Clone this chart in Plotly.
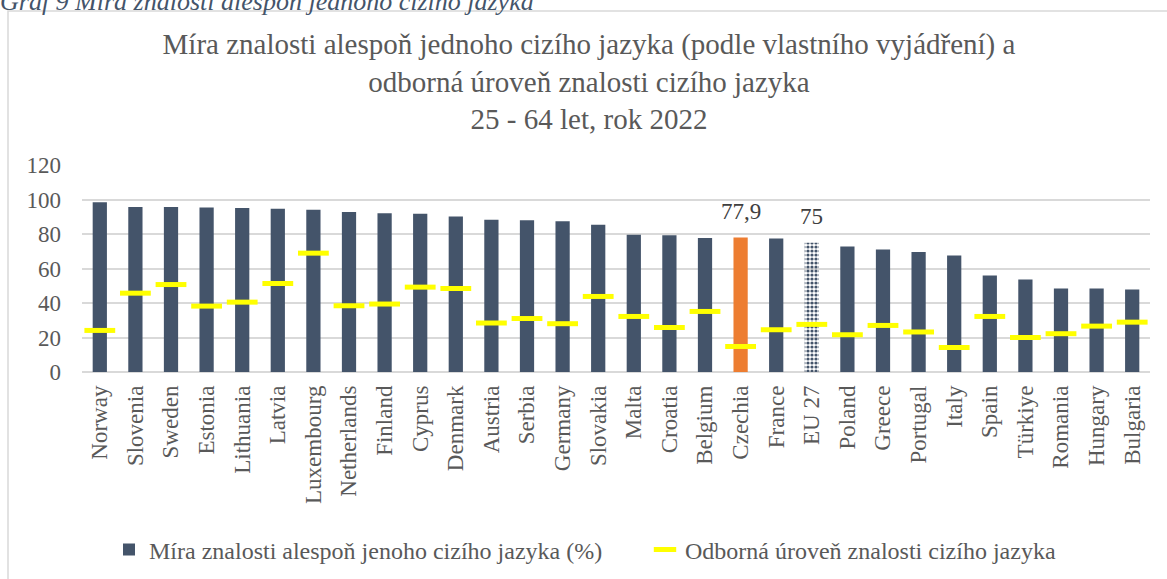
import plotly.graph_objects as go

countries = ["Norway", "Slovenia", "Sweden", "Estonia", "Lithuania", "Latvia", "Luxembourg",
             "Netherlands", "Finland", "Cyprus", "Denmark", "Austria", "Serbia", "Germany",
             "Slovakia", "Malta", "Croatia", "Belgium", "Czechia", "France", "EU 27", "Poland",
             "Greece", "Portugal", "Italy", "Spain", "Türkiye", "Romania", "Hungary", "Bulgaria"]

knowledge = [98.4, 95.7, 95.7, 95.3, 95.1, 94.7, 94.1, 92.8, 92.0, 91.8, 90.1, 88.2, 88.0, 87.4,
             85.3, 79.5, 79.3, 77.7, 77.9, 77.4, 75.0, 72.7, 71.0, 69.5, 67.5, 55.9, 53.6,
             48.4, 48.4, 47.8]

proficient = [24.1, 45.7, 50.7, 38.2, 40.5, 51.3, 68.9, 38.4, 39.4, 49.2, 48.4, 28.4, 31.0, 28.0,
              43.8, 32.2, 25.8, 35.1, 14.8, 24.5, 27.6, 21.6, 27.0, 23.2, 14.2, 32.2, 20.0,
              22.2, 26.6, 28.9]

labelled = {"Czechia": "77,9", "EU 27": "75"}

name_bar = "Míra znalosti alespoň jenoho cizího jazyka (%)"
name_line = "Odborná úroveň znalosti cizího jazyka"
title_text = ("Míra znalosti alespoň jednoho cizího jazyka (podle vlastního vyjádření) a<br>"
              "odborná úroveň znalosti cizího jazyka<br>25 - 64 let, rok 2022")
caption_text = "Graf 9 Míra znalosti alespoň jednoho cizího jazyka"

# styling
W, H = 1167, 579
L, R, T, B = 82, 17, 165, 207
DARK = "#44546A"
ORANGE = "#ED7D31"
YELLOW = "#FFFF00"
GRID = "#D9D9D9"
TXT = "#595959"
FONT = "Liberation Serif, Times New Roman, serif"

colors = [ORANGE if c == "Czechia" else DARK for c in countries]
patterns = ["." if c == "EU 27" else "" for c in countries]
fg = [DARK for c in countries]

fig = go.Figure()
fig.add_trace(go.Bar(
    x=countries, y=knowledge, name=name_bar, legend="legend",
    marker=dict(color=colors, line=dict(width=0),
                pattern=dict(shape=patterns, fgcolor=fg, bgcolor="white",
                             size=4, solidity=0.5, fillmode="replace")),
    width=0.4,
))
fig.add_trace(go.Scatter(
    x=countries, y=proficient, name=name_line, mode="markers", legend="legend2",
    marker=dict(symbol="line-ew", size=22, color=YELLOW, line=dict(width=5, color=YELLOW)),
))

for c, txt in labelled.items():
    i = countries.index(c)
    fig.add_annotation(x=c, y=knowledge[i], text=txt, showarrow=False,
                       yanchor="bottom", yshift=12,
                       font=dict(family=FONT, size=23, color="#404040"))

pw = W - L - R
ph = H - T - B
def px_x(p):
    return (p - L) / pw
def px_y(p):
    return (H - B - p) / ph

# chart border
fig.add_shape(type="rect", xref="paper", yref="paper",
              x0=px_x(8), x1=px_x(W + 20), y0=px_y(11), y1=px_y(H + 20),
              line=dict(color=GRID, width=1.5), fillcolor="rgba(0,0,0,0)", layer="below")

# cut-off caption above chart
fig.add_annotation(xref="paper", yref="paper", x=px_x(-2), y=px_y(18),
                   xanchor="left", yanchor="bottom", showarrow=False,
                   text="<i>" + caption_text + "</i>",
                   font=dict(family=FONT, size=26, color=DARK))

legend_common = dict(orientation="h", xref="container", yref="container",
                     xanchor="left", y=1 - 550 / H, yanchor="middle",
                     font=dict(family=FONT, size=24, color=TXT),
                     itemwidth=30, bgcolor="rgba(0,0,0,0)")

fig.update_layout(
    width=W, height=H,
    margin=dict(l=L, r=R, t=T, b=B, autoexpand=False),
    paper_bgcolor="white", plot_bgcolor="white",
    font=dict(family=FONT, size=23, color=TXT),
    title=dict(text=title_text, x=589 / W, xref="container", xanchor="center",
               y=1 - 54 / H, yref="container", yanchor="top",
               font=dict(family=FONT, size=29, color=TXT)),
    bargap=0.6,
    showlegend=True,
    legend=dict(x=109 / W, **legend_common),
    legend2=dict(x=645 / W, **legend_common),
    xaxis=dict(tickangle=-90, showgrid=False, showline=False, ticks="",
               range=[-0.5, len(countries) - 0.5], ticklabelstandoff=8,
               automargin=False, tickfont=dict(family=FONT, size=23, color=TXT)),
    yaxis=dict(range=[0, 120], dtick=20, showgrid=True, gridcolor=GRID, gridwidth=1.5,
               zeroline=True, zerolinecolor=GRID, zerolinewidth=1.5, showline=False,
               ticks="", automargin=False, ticklabelstandoff=20,
               tickfont=dict(family=FONT, size=23, color=TXT)),
)

fig.write_html("out.html", config={"displayModeBar": False},
               post_script="document.body.style.margin='0';")
